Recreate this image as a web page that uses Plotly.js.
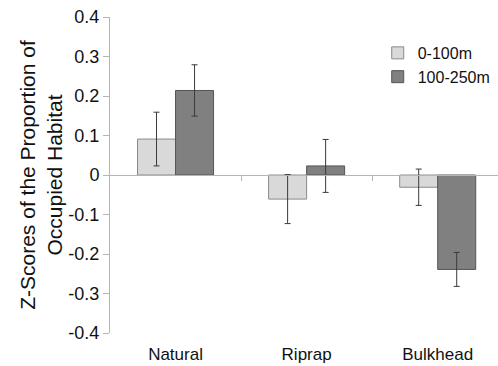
<!DOCTYPE html>
<html>
<head>
<meta charset="utf-8">
<script src="https://cdn.plot.ly/plotly-3.0.1.min.js"></script>
<style>html,body{margin:0;padding:0;background:#fff;}#chart{width:498px;height:366px;}</style>
</head>
<body>
<div id="chart"></div>
<script>
var categories = ["Natural", "Riprap", "Bulkhead"];
var seriesNames = ["0-100m", "100-250m"];
var near = [0.091, -0.061, -0.031];
var nearErr = [0.068, 0.062, 0.046];
var far = [0.214, 0.023, -0.239];
var farErr = [0.065, 0.067, 0.043];
var yTicks = [0.4, 0.3, 0.2, 0.1, 0, -0.1, -0.2, -0.3, -0.4];
var yTickText = ["0.4", "0.3", "0.2", "0.1", "0", "-0.1", "-0.2", "-0.3", "-0.4"];
var boundaryTicks = [0.5, 1.5];

var font = "Liberation Sans, Arial, sans-serif";
var errStyle = {type: "data", visible: true, color: "#3a3a3a", thickness: 1, width: 3};

var traces = [
  {type: "bar", name: seriesNames[0], x: categories, y: near,
   error_y: Object.assign({array: nearErr}, errStyle),
   marker: {color: "#d9d9d9", line: {color: "#8a8a8a", width: 1}}},
  {type: "bar", name: seriesNames[1], x: categories, y: far,
   error_y: Object.assign({array: farErr}, errStyle),
   marker: {color: "#808080", line: {color: "#555555", width: 1}}},
  {type: "scatter", x: [], y: [], xaxis: "x2", showlegend: false, hoverinfo: "skip"}
];

var layout = {
  width: 498, height: 366,
  margin: {l: 110, r: 0, t: 17, b: 33},
  paper_bgcolor: "#fff", plot_bgcolor: "#fff",
  font: {family: font, size: 17, color: "#111"},
  barmode: "group", bargap: 0.42, bargroupgap: 0,
  showlegend: true,
  legend: {x: 0.69, y: 0.94, xanchor: "left", yanchor: "top",
           font: {family: font, size: 16, color: "#111"}, bgcolor: "rgba(0,0,0,0)",
           tracegroupgap: 0},
  xaxis: {type: "category", range: [-0.5, 2.46], showline: false, ticks: "",
          showgrid: false, zeroline: false, ticklabelstandoff: 9,
          tickfont: {family: font, size: 17, color: "#111"}},
  xaxis2: {type: "linear", overlaying: "x", anchor: "free", position: 0.5,
           range: [-0.5, 2.46], showline: true, linecolor: "#b5b5b5", linewidth: 1,
           ticks: "outside", ticklen: 5, tickcolor: "#b5b5b5", tickvals: boundaryTicks,
           showticklabels: false, showgrid: false, zeroline: false, side: "bottom"},
  yaxis: {range: [-0.4, 0.4], tickvals: yTicks, ticktext: yTickText,
          showline: true, linecolor: "#b5b5b5", linewidth: 1,
          ticks: "outside", ticklen: 6, tickcolor: "#b5b5b5",
          showgrid: false, zeroline: false,
          tickfont: {family: font, size: 18, color: "#111"},
          title: {text: "Z-Scores of the Proportion of<br>Occupied Habitat",
                  font: {family: font, size: 21, color: "#111"}}}
};

Plotly.newPlot("chart", traces, layout, {staticPlot: true, displayModeBar: false});
</script>
</body>
</html>
